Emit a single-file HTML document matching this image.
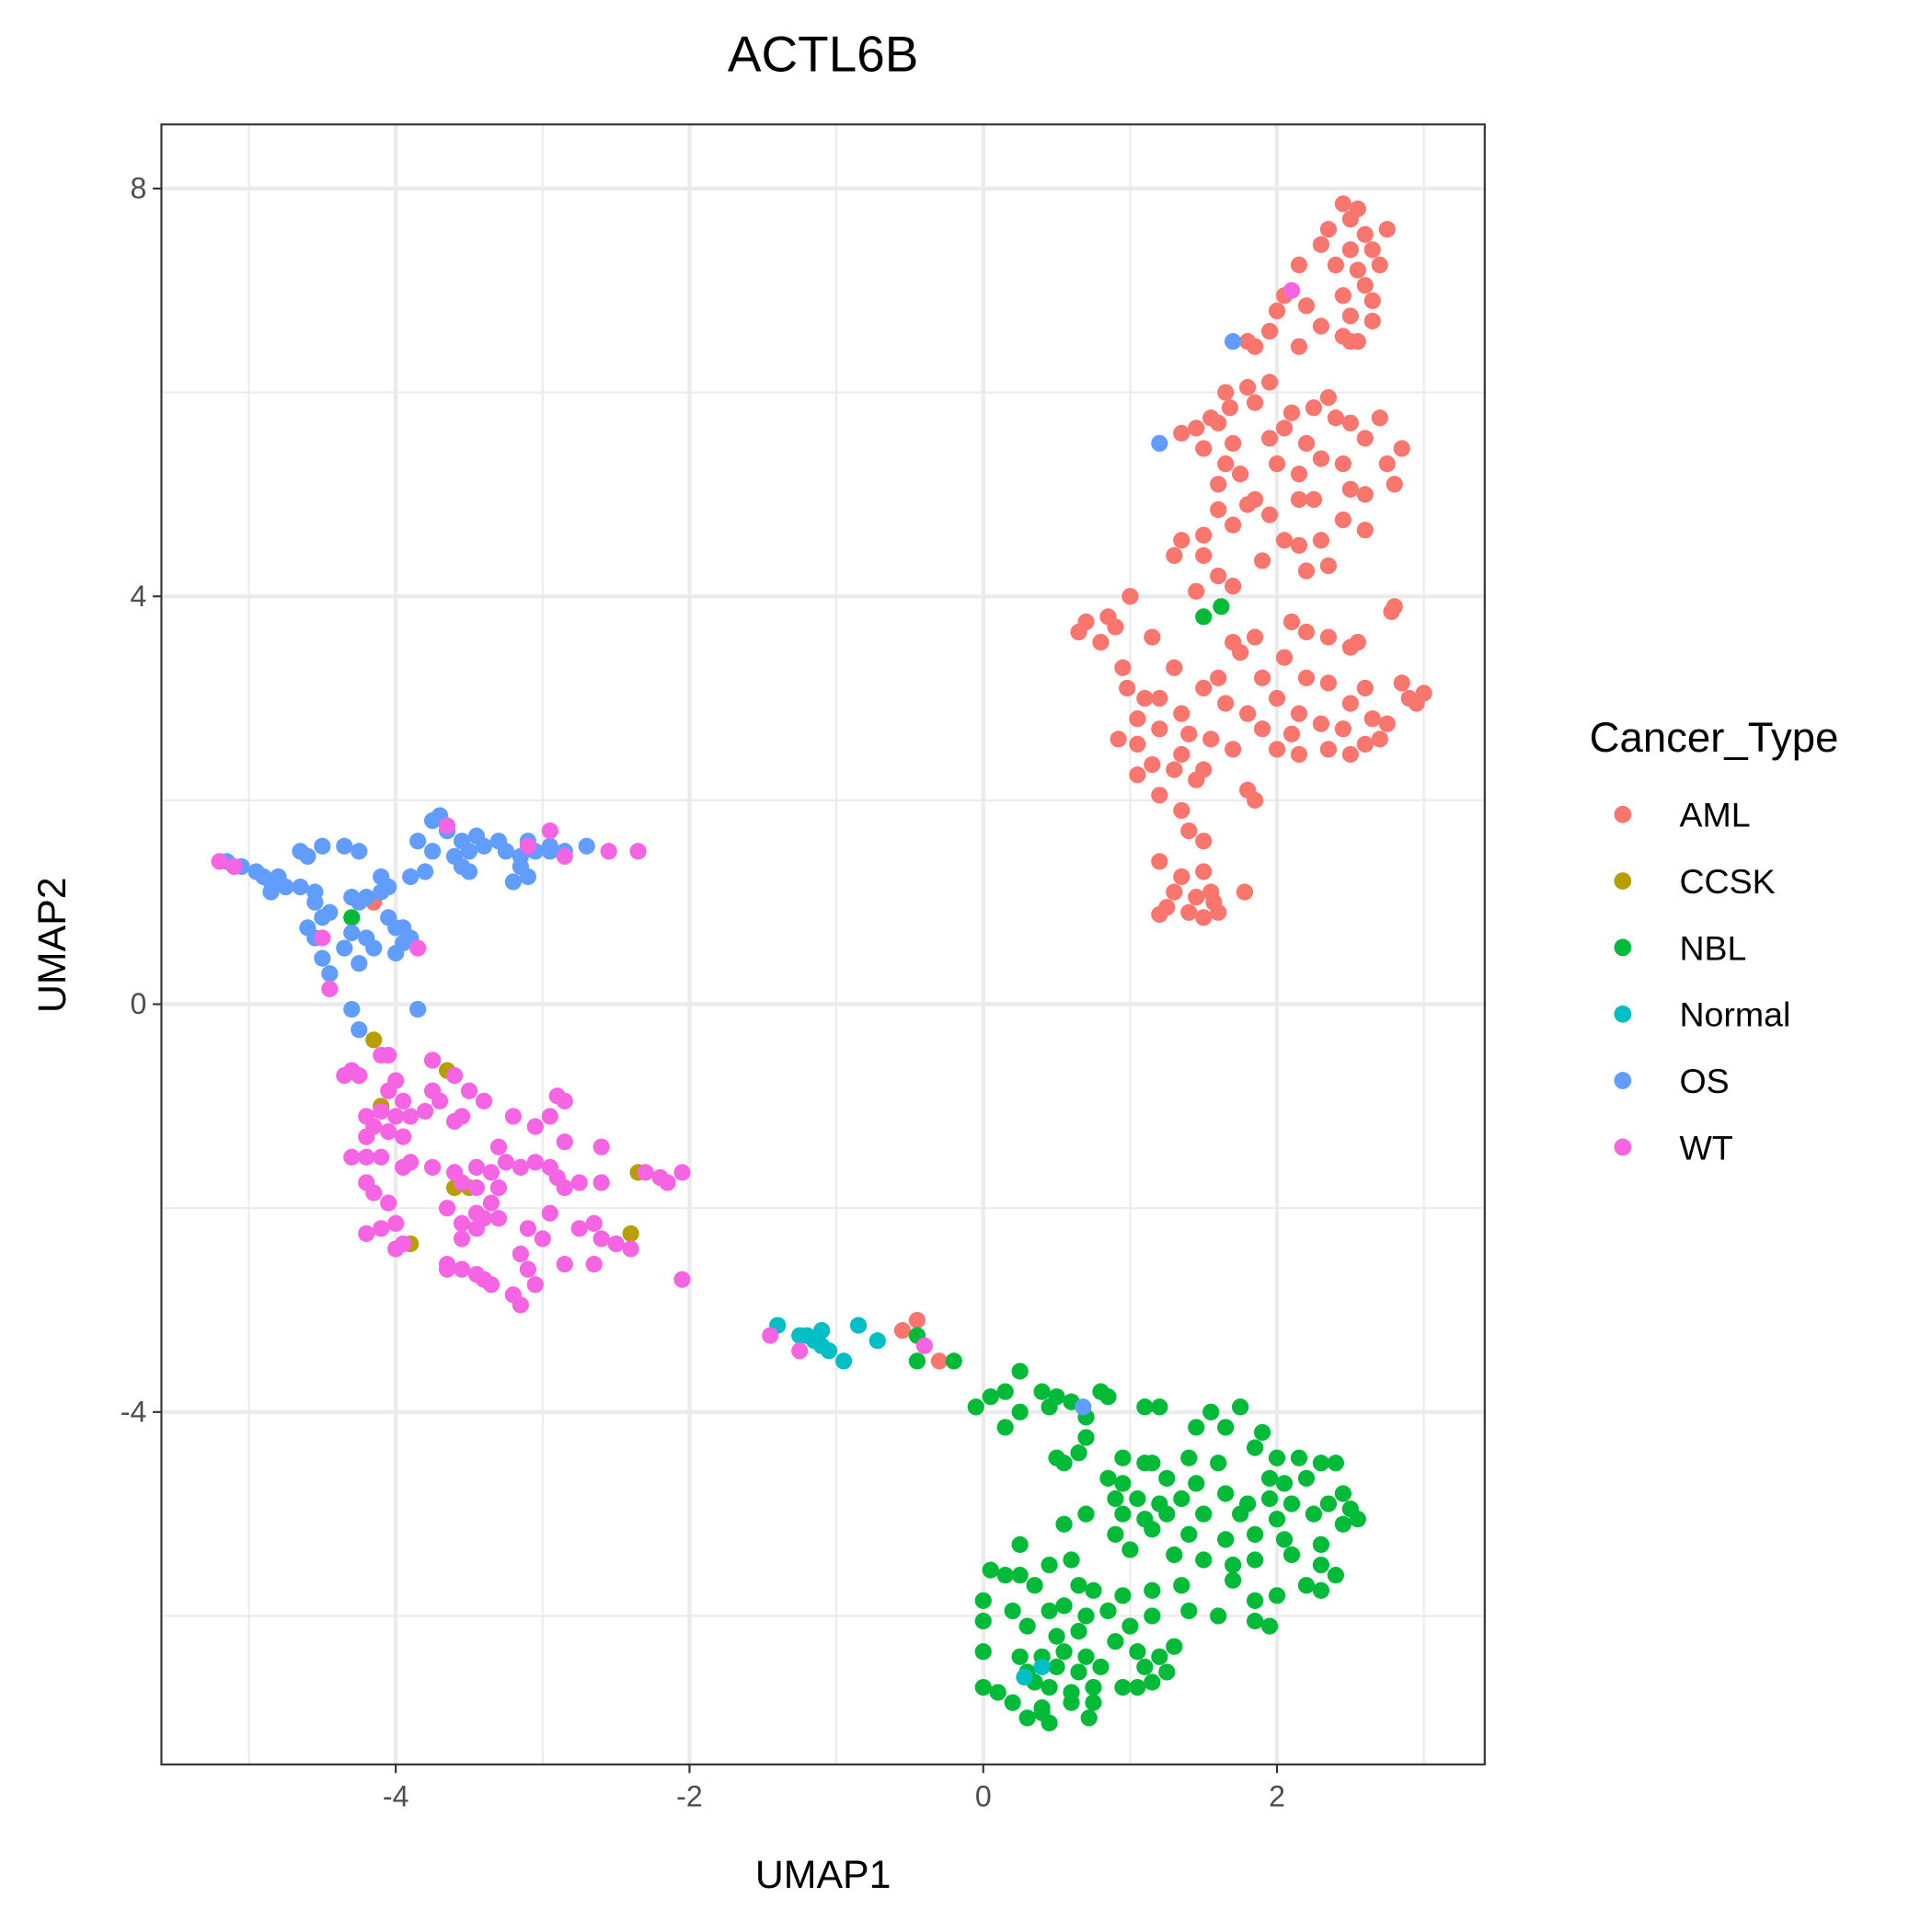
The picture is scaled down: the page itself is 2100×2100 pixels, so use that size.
<!DOCTYPE html>
<html><head><meta charset="utf-8"><style>
html,body{margin:0;padding:0;background:#fff;}
svg{display:block;font-family:"Liberation Sans",Arial,sans-serif;}
</style></head><body>
<svg id="chart" width="2100" height="2100" viewBox="0 0 1568 1568" xmlns="http://www.w3.org/2000/svg">
<rect width="1568" height="1568" fill="#fff"/>
<text x="668" y="58" font-size="41" text-anchor="middle">ACTL6B</text>
<g id="grid"></g>
<g id="points"></g>
<rect x="131" y="101" width="1074" height="1331" fill="none" stroke="#333" stroke-width="1.6"/>
<g id="axes"></g>
<text x="668" y="1532" font-size="32" text-anchor="middle">UMAP1</text>
<text transform="translate(53,767) rotate(-90)" font-size="32" text-anchor="middle">UMAP2</text>
<g id="legend">
<text x="1290" y="610" font-size="34">Cancer_Type</text>
</g>
</svg>
<script>
const categories=["AML","CCSK","NBL","Normal","OS","WT"];
const colors=["#F8766D","#B79F00","#00BA38","#00BFC4","#619CFF","#F564E3"];
const xTicks=[-4,-2,0,2];
const yTicks=[8,4,0,-4];
const xMinor=[-5,-3,-1,1,3];
const yMinor=[6,2,-2,-6];
const amlPts=[[2.45,7.85],[2.55,7.8],[2.5,7.7],[2.35,7.6],[2.6,7.55],[2.75,7.6],[2.3,7.45],[2.5,7.4],[2.65,7.4],[2.15,7.25],[2.4,7.25],[2.55,7.2],[2.7,7.25],[2.6,7.05],[2.45,6.95],[2.65,6.9],[2.05,6.95],[2.0,6.8],[2.2,6.85],[2.5,6.75],[2.65,6.7],[2.3,6.65],[1.95,6.6],[2.5,6.5],[2.15,6.45],[1.8,6.5],[1.85,6.45],[2.45,6.55],[2.55,6.5],
[1.65,6.0],[1.8,6.05],[1.95,6.1],[1.68,5.85],[1.6,5.7],[1.55,5.75],[1.45,5.65],[1.35,5.6],[1.5,5.45],[1.7,5.5],[1.85,5.9],[2.1,5.8],[2.05,5.65],[2.25,5.85],[2.35,5.95],[2.4,5.75],[2.5,5.7],[2.7,5.75],[2.6,5.55],[2.85,5.45],[2.2,5.5],[1.95,5.55],[2.3,5.35],[2.0,5.3],[1.65,5.3],[1.6,5.1],[1.75,5.2],[2.15,5.2],[2.45,5.3],[2.75,5.3],[2.8,5.1],[2.5,5.05],[2.6,5.0],[2.25,4.95],[1.85,4.95],[1.6,4.85],[1.8,4.9],[1.95,4.8],[2.15,4.95],[1.7,4.7],[1.5,4.6],[1.35,4.55],[2.05,4.55],[2.15,4.5],[2.3,4.55],[2.6,4.65],[2.45,4.75],[1.5,4.4],[1.3,4.4],[1.9,4.35],[1.6,4.2],[2.2,4.25],[2.35,4.3],[1.45,4.05],[1.7,4.1],
[1.0,4.0],[0.7,3.75],[0.85,3.8],[0.65,3.65],[0.9,3.7],[1.15,3.6],[0.8,3.55],[1.7,3.55],[1.85,3.6],[2.1,3.75],[2.2,3.65],[2.35,3.6],[2.5,3.5],[2.8,3.9],[2.78,3.85],[2.55,3.55],[1.75,3.45],[2.05,3.4],[1.3,3.3],[1.5,3.1],[1.6,3.2],[1.9,3.2],[2.2,3.2],[2.35,3.15],[2.6,3.1],[2.85,3.15],[0.95,3.3],[0.98,3.1],[1.1,3.0],[1.2,3.0],[1.35,2.85],[1.65,2.95],[1.8,2.85],[2.0,3.0],[2.15,2.85],[2.5,2.95],[2.65,2.8],[2.9,3.0],[2.95,2.95],[3.0,3.05],[2.75,2.75],[1.05,2.8],[1.2,2.7],[1.4,2.65],[1.55,2.6],[1.9,2.7],[2.1,2.65],[2.3,2.75],[2.45,2.7],[2.7,2.6],[0.92,2.6],[1.05,2.55],[1.35,2.45],[1.5,2.3],[1.7,2.5],[2.0,2.5],[2.15,2.45],[2.35,2.5],[2.5,2.45],[2.6,2.55],[1.15,2.35],[1.3,2.3],[1.45,2.2],[1.8,2.1],[1.05,2.25],[1.2,2.05],[1.35,1.9],[1.85,2.0],[1.4,1.7],[1.5,1.6],[1.2,1.4],[1.5,1.3],[1.35,1.25],[1.3,1.1],[1.45,1.05],[1.55,1.1],[1.78,1.1],[1.25,0.95],[1.4,0.9],[1.6,0.9],[1.5,0.85],[1.2,0.88],[1.57,1.0],
[-4.15,1.0],[-0.45,-3.1],[-0.55,-3.2],[-0.3,-3.5]];
const ccskPts=[[-4.15,-0.35],[-3.65,-0.65],[-4.1,-1.0],[-3.6,-1.8],[-3.5,-1.8],[-2.35,-1.65],[-2.4,-2.25],[-3.9,-2.35],[-3.75,-0.55]];
const nblPts=[[1.5,3.8],[1.62,3.9],[-4.3,0.85],[-0.45,-3.25],[-0.45,-3.5],[-0.2,-3.5],
[0.25,-3.6],[0.15,-3.8],[0.4,-3.8],[0.5,-3.85],[0.8,-3.8],[0.85,-3.85],[0.05,-3.85],[-0.05,-3.95],[0.25,-4.0],[0.45,-3.95],[0.6,-3.9],[1.1,-3.95],[1.2,-3.95],[1.55,-4.0],[1.75,-3.95],[0.7,-4.05],[0.15,-4.15],[0.7,-4.25],[1.45,-4.15],[1.65,-4.15],[1.9,-4.2],[0.65,-4.4],[0.5,-4.45],[0.55,-4.5],[0.95,-4.45],[1.1,-4.5],[1.15,-4.5],[1.4,-4.45],[1.6,-4.5],[1.85,-4.35],[2.0,-4.45],[2.15,-4.45],[2.3,-4.5],[2.4,-4.5],[0.85,-4.65],[0.95,-4.7],[1.25,-4.65],[1.45,-4.7],[1.65,-4.8],[1.95,-4.65],[2.05,-4.7],[2.2,-4.65],[2.45,-4.8],[2.5,-4.95],[0.9,-4.85],[1.05,-4.85],[1.2,-4.9],[1.35,-4.85],[1.8,-4.9],[1.95,-4.85],[2.1,-4.9],[2.35,-4.9],[2.55,-5.05],[0.7,-5.0],[0.95,-5.0],[1.1,-5.05],[1.25,-5.0],[1.5,-5.0],[1.75,-5.0],[2.0,-5.05],[2.25,-5.0],[2.45,-5.1],[0.55,-5.1],[0.9,-5.2],[1.15,-5.15],[1.4,-5.2],[1.65,-5.25],[1.85,-5.2],[2.05,-5.25],[2.3,-5.3],[0.25,-5.3],[0.45,-5.5],[0.6,-5.45],[1.0,-5.35],[1.3,-5.4],[1.5,-5.45],[1.7,-5.5],[1.85,-5.45],[2.1,-5.4],[2.3,-5.5],[2.4,-5.6],[0.05,-5.55],[0.15,-5.6],[0.25,-5.6],[0.35,-5.7],[0.65,-5.7],[0.75,-5.75],[0.95,-5.8],[1.15,-5.75],[1.35,-5.7],[1.7,-5.65],[1.85,-5.85],[2.0,-5.8],[2.2,-5.7],[2.3,-5.75],[0.0,-5.85],[0.2,-5.95],[0.45,-5.95],[0.55,-5.9],[0.7,-6.0],[0.85,-5.95],[1.0,-6.1],[1.15,-6.0],[1.4,-5.95],[1.6,-6.0],[1.85,-6.05],[1.95,-6.1],[0.0,-6.05],[0.3,-6.1],[0.5,-6.2],[0.65,-6.15],[0.9,-6.25],[1.3,-6.3],[0.0,-6.35],[0.25,-6.4],[0.4,-6.4],[0.55,-6.35],[0.7,-6.4],[1.05,-6.35],[1.2,-6.4],[0.3,-6.55],[0.5,-6.5],[0.65,-6.55],[0.8,-6.5],[1.1,-6.5],[1.25,-6.55],[0.0,-6.7],[0.1,-6.75],[0.35,-6.65],[0.45,-6.7],[0.6,-6.75],[0.75,-6.7],[0.95,-6.7],[1.05,-6.7],[1.15,-6.65],[0.2,-6.85],[0.4,-6.9],[0.6,-6.85],[0.75,-6.85],[0.3,-7.0],[0.45,-7.05],[0.4,-6.95],[0.72,-7.0]];
const normalPts=[[-1.4,-3.15],[-1.25,-3.25],[-1.15,-3.3],[-1.1,-3.2],[-1.05,-3.4],[-0.95,-3.5],[-0.85,-3.15],[-0.72,-3.3],[-1.2,-3.25],[0.4,-6.5],[0.28,-6.6],[-1.1,-3.35]];
const osPts=[[1.7,6.5],[1.2,5.5],[0.68,-3.95],
[-5.15,1.4],[-5.05,1.35],[-4.95,1.3],[-4.9,1.25],[-4.85,1.2],[-4.8,1.25],[-4.75,1.15],[-4.85,1.1],[-4.65,1.15],[-4.55,1.1],[-4.5,1.55],[-4.35,1.55],[-4.25,1.5],[-4.6,1.45],[-4.65,1.5],[-4.55,1.0],[-4.45,0.9],[-4.5,0.85],[-4.6,0.75],[-4.55,0.65],[-4.3,1.05],[-4.25,1.0],[-4.2,1.05],[-4.1,1.25],[-4.05,1.15],[-4.1,1.1],[-4.3,0.7],[-4.2,0.65],[-4.35,0.55],[-4.05,0.85],[-4.0,0.75],[-3.95,0.6],[-3.9,0.65],[-4.15,0.55],[-4.25,0.4],[-4.45,0.3],[-4.5,0.45],[-4.0,0.5],[-3.75,1.8],[-3.7,1.85],[-3.65,1.7],[-3.55,1.6],[-3.45,1.65],[-3.85,1.6],[-3.75,1.5],[-3.6,1.45],[-3.5,1.5],[-3.4,1.55],[-3.3,1.6],[-3.25,1.5],[-3.15,1.45],[-3.05,1.5],[-2.95,1.55],[-2.85,1.5],[-2.7,1.55],[-3.1,1.6],[-3.15,1.35],[-3.1,1.25],[-3.8,1.3],[-3.9,1.25],[-3.55,1.35],[-3.5,1.3],[-3.2,1.2],[-2.95,1.5],[-3.85,-0.05],[-4.3,-0.05],[-4.25,-0.25],[-3.95,0.75]];
const wtPts=[[-5.2,1.4],[-5.1,1.35],[-4.5,0.65],[-4.45,0.15],[-3.85,0.55],[-3.65,1.75],[-3.1,1.55],[-2.95,1.7],[-2.85,1.45],[-2.55,1.5],[-2.35,1.5],[2.1,7.0],[-1.45,-3.25],[-1.25,-3.4],[-0.4,-3.35],
[-4.1,-0.5],[-4.05,-0.5],[-3.75,-0.55],[-3.6,-0.7],[-3.5,-0.85],[-3.4,-0.95],[-4.3,-0.65],[-4.35,-0.7],[-4.25,-0.7],[-4.0,-0.75],[-4.05,-0.85],[-3.95,-0.95],[-3.75,-0.85],[-3.7,-0.95],[-4.1,-1.05],[-4.0,-1.1],[-3.9,-1.1],[-3.8,-1.05],[-4.2,-1.1],[-4.15,-1.2],[-3.55,-1.1],[-3.6,-1.15],[-4.2,-1.3],[-3.95,-1.3],[-4.05,-1.25],[-3.2,-1.1],[-3.05,-1.2],[-2.95,-1.1],[-2.85,-0.95],[-2.9,-0.9],[-2.6,-1.4],[-2.85,-1.35],[-3.3,-1.4],[-4.3,-1.5],[-4.2,-1.5],[-4.1,-1.5],[-3.9,-1.55],[-3.95,-1.6],[-3.75,-1.6],[-3.6,-1.65],[-3.45,-1.6],[-3.35,-1.65],[-3.25,-1.55],[-3.15,-1.6],[-3.05,-1.55],[-2.95,-1.6],[-2.9,-1.7],[-2.85,-1.8],[-2.75,-1.75],[-2.6,-1.75],[-3.3,-1.8],[-3.45,-1.8],[-3.55,-1.75],[-4.2,-1.75],[-4.15,-1.85],[-4.05,-1.95],[-3.65,-2.0],[-3.35,-1.95],[-3.45,-2.05],[-2.95,-2.05],[-3.55,-2.15],[-3.4,-2.1],[-3.3,-2.1],[-4.0,-2.15],[-4.1,-2.2],[-4.2,-2.25],[-3.55,-2.3],[-3.45,-2.2],[-3.1,-2.2],[-3.0,-2.3],[-2.75,-2.2],[-2.65,-2.15],[-2.6,-2.3],[-2.5,-2.35],[-2.4,-2.4],[-3.95,-2.35],[-4.0,-2.4],[-3.15,-2.45],[-3.65,-2.55],[-3.55,-2.6],[-3.45,-2.65],[-3.4,-2.7],[-3.35,-2.75],[-3.1,-2.6],[-2.85,-2.55],[-2.65,-2.55],[-3.05,-2.75],[-3.2,-2.85],[-3.15,-2.95],[-2.05,-2.7],[-2.3,-1.65],[-2.2,-1.7],[-2.15,-1.75],[-2.05,-1.65],[-3.65,-2.6]];
const series=[amlPts,ccskPts,nblPts,normalPts,osPts,wtPts];

const NS="http://www.w3.org/2000/svg";
const L=131,R=1205,T=101,B=1432;
function sx(v){return 798+v*119.2;}
function sy(v){return 815-v*82.75;}
function mk(tag,attrs,parent){const e=document.createElementNS(NS,tag);for(const k in attrs)e.setAttribute(k,attrs[k]);parent.appendChild(e);return e;}
const grid=document.getElementById('grid'),pts=document.getElementById('points'),axes=document.getElementById('axes'),leg=document.getElementById('legend');
mk('rect',{x:L,y:T,width:R-L,height:B-T,fill:'#fff'},grid);
xMinor.forEach(v=>{const l=mk('line',{x1:sx(v),x2:sx(v),y1:T,y2:B,stroke:'#ebebeb','stroke-width':1.6},grid);

});
yMinor.forEach(v=>{const l=mk('line',{x1:L,x2:R,y1:sy(v),y2:sy(v),stroke:'#ebebeb','stroke-width':1.6},grid);

});
xTicks.forEach(v=>{const l=mk('line',{x1:sx(v),x2:sx(v),y1:T,y2:B,stroke:'#ebebeb','stroke-width':3.2},grid);


const t=mk('line',{x1:sx(v),x2:sx(v),y1:B,y2:B+7,stroke:'#333','stroke-width':1.6},axes);


const tx=mk('text',{x:sx(v),y:B+34,'font-size':24,'text-anchor':'middle',fill:'#4d4d4d'},axes);tx.textContent=v;

});
yTicks.forEach(v=>{const l=mk('line',{x1:L,x2:R,y1:sy(v),y2:sy(v),stroke:'#ebebeb','stroke-width':3.2},grid);


const t=mk('line',{x1:L-7,x2:L,y1:sy(v),y2:sy(v),stroke:'#333','stroke-width':1.6},axes);


const tx=mk('text',{x:L-12,y:sy(v)+8,'font-size':24,'text-anchor':'end',fill:'#4d4d4d'},axes);tx.textContent=v;

});
series.forEach((arr,i)=>{arr.forEach(p=>{const c=mk('circle',{cx:sx(p[0]),cy:sy(p[1]),r:6.8,fill:colors[i]},pts);

});});
categories.forEach((c,i)=>{const y=661+i*54;
const d=mk('circle',{cx:1317,cy:y,r:7,fill:colors[i]},leg);


const t=mk('text',{x:1363,y:y+10,'font-size':28},leg);t.textContent=c;

});
</script>
</body></html>
